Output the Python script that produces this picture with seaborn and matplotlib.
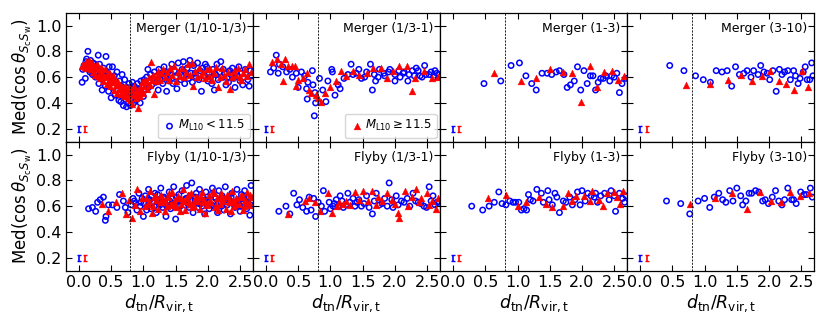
import matplotlib
matplotlib.use("Agg")
import matplotlib.pyplot as plt
import seaborn as sns

# ---- data (x = d_tn / R_vir,t, y = median cos) ----

# Merger (1/10-1/3)
mer1_lo_x = [0.05, 0.06, 0.08, 0.10, 0.11, 0.12, 0.14, 0.15, 0.16, 0.17, 0.18, 0.20, 0.21, 0.22, 0.24, 0.25,
             0.26, 0.27, 0.29, 0.30, 0.31, 0.32, 0.33, 0.35, 0.36, 0.37, 0.38, 0.40, 0.41, 0.42, 0.43, 0.45,
             0.46, 0.47, 0.49, 0.50, 0.51, 0.52, 0.54, 0.55, 0.56, 0.58, 0.59, 0.60, 0.62, 0.63, 0.64, 0.65,
             0.66, 0.67, 0.68, 0.69, 0.70, 0.71, 0.72, 0.73, 0.74, 0.75, 0.76, 0.77, 0.78, 0.79, 0.80, 0.81,
             0.82, 0.83, 0.84, 0.85, 0.86, 0.87, 0.88, 0.90, 0.91, 0.92, 0.94, 0.95, 0.96, 0.97, 0.99, 1.00,
             1.01, 1.03, 1.04, 1.05, 1.07, 1.08, 1.10, 1.11, 1.13, 1.15, 1.17, 1.19, 1.21, 1.23, 1.24, 1.26,
             1.28, 1.30, 1.32, 1.34, 1.36, 1.38, 1.40, 1.42, 1.44, 1.46, 1.48, 1.50, 1.52, 1.54, 1.56, 1.58,
             1.60, 1.62, 1.64, 1.66, 1.68, 1.70, 1.72, 1.74, 1.76, 1.78, 1.80, 1.82, 1.84, 1.86, 1.88, 1.90,
             1.92, 1.94, 1.96, 1.98, 2.00, 2.02, 2.04, 2.06, 2.08, 2.10, 2.12, 2.14, 2.16, 2.18, 2.20, 2.22,
             2.24, 2.26, 2.28, 2.30, 2.32, 2.34, 2.36, 2.38, 2.40, 2.42, 2.44, 2.46, 2.48, 2.50, 2.52, 2.54,
             2.56, 2.58, 2.60, 2.62, 2.64, 2.66, 2.68]
mer1_lo_y = [0.56, 0.66, 0.69, 0.59, 0.72, 0.74, 0.80, 0.70, 0.66, 0.64, 0.73, 0.68, 0.62, 0.71, 0.66, 0.70,
             0.60, 0.68, 0.64, 0.77, 0.55, 0.70, 0.62, 0.65, 0.50, 0.59, 0.67, 0.61, 0.53, 0.76, 0.57, 0.63,
             0.49, 0.68, 0.56, 0.44, 0.60, 0.68, 0.52, 0.61, 0.46, 0.55, 0.64, 0.50, 0.42, 0.57, 0.48, 0.41,
             0.53, 0.62, 0.45, 0.38, 0.50, 0.58, 0.43, 0.47, 0.37, 0.52, 0.44, 0.40, 0.55, 0.47, 0.38, 0.51,
             0.43, 0.56, 0.46, 0.40, 0.53, 0.48, 0.42, 0.50, 0.55, 0.44, 0.51, 0.40, 0.57, 0.48, 0.53, 0.45,
             0.58, 0.50, 0.55, 0.60, 0.66, 0.52, 0.57, 0.62, 0.54, 0.59, 0.64, 0.56, 0.61, 0.50, 0.66, 0.58,
             0.63, 0.55, 0.68, 0.60, 0.49, 0.64, 0.57, 0.62, 0.70, 0.55, 0.65, 0.60, 0.51, 0.71, 0.63, 0.58,
             0.66, 0.72, 0.55, 0.62, 0.67, 0.59, 0.73, 0.63, 0.56, 0.69, 0.63, 0.60, 0.71, 0.58, 0.65, 0.49,
             0.67, 0.61, 0.70, 0.68, 0.57, 0.63, 0.60, 0.55, 0.66, 0.50, 0.62, 0.70, 0.58, 0.64, 0.72, 0.60,
             0.66, 0.63, 0.54, 0.59, 0.56, 0.65, 0.62, 0.67, 0.59, 0.52, 0.64, 0.61, 0.68, 0.57, 0.63, 0.54,
             0.60, 0.66, 0.62, 0.58, 0.53, 0.65, 0.61]
mer1_hi_x = [0.05, 0.07, 0.09, 0.11, 0.13, 0.14, 0.16, 0.17, 0.19, 0.20, 0.22, 0.23, 0.25, 0.26, 0.28, 0.29,
             0.31, 0.32, 0.34, 0.35, 0.37, 0.38, 0.40, 0.41, 0.43, 0.44, 0.46, 0.47, 0.49, 0.50, 0.52, 0.53,
             0.55, 0.56, 0.58, 0.59, 0.61, 0.62, 0.64, 0.65, 0.67, 0.68, 0.70, 0.71, 0.73, 0.74, 0.76, 0.77,
             0.79, 0.80, 0.82, 0.83, 0.85, 0.86, 0.88, 0.89, 0.91, 0.92, 0.94, 0.95, 0.97, 0.98, 1.00, 1.01,
             1.03, 1.05, 1.06, 1.08, 1.10, 1.12, 1.13, 1.15, 1.17, 1.19, 1.21, 1.23, 1.25, 1.27, 1.30, 1.33,
             1.36, 1.39, 1.42, 1.45, 1.48, 1.51, 1.54, 1.57, 1.60, 1.63, 1.66, 1.69, 1.72, 1.75, 1.77, 1.80,
             1.83, 1.86, 1.89, 1.92, 1.95, 1.98, 2.01, 2.04, 2.07, 2.10, 2.13, 2.16, 2.19, 2.22, 2.25, 2.28,
             2.31, 2.34, 2.37, 2.40, 2.43, 2.46, 2.49, 2.52, 2.55, 2.58, 2.61, 2.64, 2.67]
mer1_hi_y = [0.69, 0.70, 0.68, 0.72, 0.67, 0.70, 0.73, 0.68, 0.66, 0.71, 0.64, 0.69, 0.62, 0.67, 0.70, 0.61,
             0.66, 0.59, 0.64, 0.68, 0.57, 0.62, 0.60, 0.66, 0.55, 0.62, 0.58, 0.64, 0.53, 0.60, 0.56, 0.62,
             0.50, 0.58, 0.54, 0.48, 0.56, 0.51, 0.54, 0.47, 0.52, 0.49, 0.45, 0.53, 0.47, 0.50, 0.44, 0.52,
             0.47, 0.42, 0.50, 0.39, 0.46, 0.53, 0.44, 0.49, 0.36, 0.47, 0.52, 0.45, 0.50, 0.56, 0.48, 0.53,
             0.58, 0.51, 0.56, 0.60, 0.54, 0.72, 0.58, 0.62, 0.47, 0.57, 0.61, 0.65, 0.58, 0.63, 0.66, 0.60,
             0.64, 0.58, 0.67, 0.62, 0.69, 0.57, 0.64, 0.61, 0.67, 0.60, 0.64, 0.70, 0.62, 0.71, 0.53, 0.65,
             0.60, 0.67, 0.62, 0.64, 0.59, 0.66, 0.61, 0.66, 0.58, 0.63, 0.68, 0.52, 0.60, 0.67, 0.62, 0.57,
             0.64, 0.51, 0.60, 0.65, 0.62, 0.67, 0.60, 0.58, 0.63, 0.66, 0.61, 0.70, 0.64]

# Merger (1/3-1)
mer2_lo_x = [0.07, 0.12, 0.16, 0.19, 0.21, 0.26, 0.32, 0.37, 0.41, 0.47, 0.50, 0.55, 0.60, 0.63, 0.64, 0.65,
             0.72, 0.73, 0.75, 0.76, 0.77, 0.83, 0.88, 0.93, 0.96, 1.02, 1.03, 1.07, 1.12, 1.15, 1.21, 1.27,
             1.32, 1.35, 1.40, 1.44, 1.48, 1.53, 1.56, 1.62, 1.65, 1.68, 1.70, 1.74, 1.76, 1.83, 1.84, 1.90,
             1.92, 2.00, 2.00, 2.06, 2.08, 2.13, 2.14, 2.20, 2.22, 2.27, 2.30, 2.33, 2.36, 2.39, 2.42, 2.46,
             2.48, 2.53, 2.56, 2.60, 2.62, 2.65, 2.69]
mer2_lo_y = [0.64, 0.67, 0.77, 0.63, 0.70, 0.68, 0.64, 0.66, 0.60, 0.63, 0.52, 0.64, 0.61, 0.51, 0.43, 0.56,
             0.65, 0.54, 0.30, 0.48, 0.40, 0.59, 0.50, 0.41, 0.57, 0.66, 0.64, 0.46, 0.54, 0.51, 0.59, 0.62,
             0.70, 0.62, 0.63, 0.66, 0.59, 0.60, 0.64, 0.70, 0.50, 0.62, 0.57, 0.60, 0.66, 0.63, 0.61, 0.64,
             0.66, 0.57, 0.62, 0.65, 0.60, 0.63, 0.64, 0.57, 0.62, 0.65, 0.61, 0.67, 0.65, 0.61, 0.60, 0.69,
             0.62, 0.62, 0.64, 0.60, 0.65, 0.63, 0.62]
mer2_hi_x = [0.10, 0.17, 0.24, 0.27, 0.29, 0.34, 0.41, 0.45, 0.46, 0.50, 0.57, 0.63, 0.67, 0.70, 0.78, 0.81,
             0.86, 0.91, 0.99, 1.09, 1.17, 1.24, 1.35, 1.45, 1.57, 1.66, 1.79, 1.87, 1.97, 2.06, 2.19, 2.26,
             2.31, 2.45, 2.57, 2.67]
mer2_hi_y = [0.72, 0.74, 0.70, 0.57, 0.74, 0.69, 0.69, 0.69, 0.53, 0.58, 0.59, 0.63, 0.50, 0.48, 0.46, 0.44,
             0.41, 0.48, 0.52, 0.57, 0.65, 0.61, 0.65, 0.62, 0.63, 0.67, 0.67, 0.59, 0.65, 0.69, 0.69, 0.49,
             0.59, 0.65, 0.59, 0.60]

# Merger (1-3)
mer3_lo_x = [0.48, 0.74, 0.90, 1.03, 1.13, 1.22, 1.29, 1.38, 1.46, 1.53, 1.60, 1.65, 1.72, 1.77, 1.82, 1.88,
             1.93, 1.98, 2.03, 2.08, 2.13, 2.17, 2.21, 2.25, 2.29, 2.33, 2.37, 2.43, 2.46, 2.50, 2.54, 2.58,
             2.62, 2.68]
mer3_lo_y = [0.55, 0.57, 0.69, 0.71, 0.61, 0.55, 0.50, 0.63, 0.63, 0.62, 0.64, 0.65, 0.62, 0.52, 0.54, 0.57,
             0.68, 0.50, 0.65, 0.55, 0.61, 0.61, 0.50, 0.56, 0.59, 0.59, 0.61, 0.57, 0.61, 0.60, 0.63, 0.48,
             0.55, 0.59]
mer3_hi_x = [0.64, 1.06, 1.29, 1.50, 1.70, 1.85, 1.99, 2.12, 2.24, 2.34, 2.46, 2.56, 2.65]
mer3_hi_y = [0.63, 0.57, 0.59, 0.66, 0.64, 0.63, 0.41, 0.69, 0.52, 0.64, 0.65, 0.58, 0.61]

# Merger (3-10)
mer4_lo_x = [0.46, 0.68, 0.86, 0.98, 1.09, 1.18, 1.27, 1.35, 1.42, 1.48, 1.54, 1.61, 1.66, 1.72, 1.76, 1.83,
             1.87, 1.92, 1.97, 2.01, 2.06, 2.11, 2.16, 2.20, 2.24, 2.29, 2.33, 2.38, 2.41, 2.45, 2.48, 2.53,
             2.56, 2.59, 2.63, 2.66, 2.68]
mer4_lo_y = [0.69, 0.65, 0.61, 0.58, 0.56, 0.65, 0.64, 0.65, 0.53, 0.68, 0.62, 0.63, 0.65, 0.60, 0.65, 0.62,
             0.69, 0.64, 0.63, 0.58, 0.65, 0.49, 0.66, 0.62, 0.64, 0.65, 0.58, 0.65, 0.61, 0.55, 0.59, 0.64,
             0.68, 0.58, 0.58, 0.71, 0.61]
mer4_hi_x = [0.71, 1.09, 1.37, 1.57, 1.74, 1.89, 2.02, 2.16, 2.27, 2.39, 2.51, 2.61]
mer4_hi_y = [0.54, 0.55, 0.58, 0.62, 0.57, 0.61, 0.65, 0.57, 0.55, 0.50, 0.65, 0.52]

# Flyby (1/10-1/3)
fly1_lo_x = [0.15, 0.21, 0.26, 0.29, 0.33, 0.38, 0.41, 0.42, 0.46, 0.52, 0.59, 0.63, 0.69, 0.72, 0.76, 0.81,
             0.86, 0.90, 0.93, 0.96, 1.00, 1.03, 1.06, 1.08, 1.10, 1.12, 1.15, 1.18, 1.20, 1.22, 1.25, 1.27,
             1.30, 1.32, 1.35, 1.37, 1.40, 1.42, 1.45, 1.47, 1.50, 1.52, 1.55, 1.57, 1.60, 1.62, 1.65, 1.67,
             1.70, 1.72, 1.75, 1.77, 1.80, 1.82, 1.85, 1.87, 1.90, 1.92, 1.95, 1.97, 2.00, 2.02, 2.05, 2.07,
             2.10, 2.12, 2.15, 2.17, 2.20, 2.22, 2.25, 2.27, 2.30, 2.32, 2.35, 2.37, 2.40, 2.42, 2.45, 2.47,
             2.50, 2.52, 2.55, 2.57, 2.60, 2.62, 2.65, 2.67, 1.01, 1.05, 1.09, 1.13, 1.17, 1.21, 1.26, 1.31,
             1.36, 1.41, 1.46, 1.51, 1.56, 1.61, 1.66, 1.71, 1.76, 1.81, 1.86, 1.91, 1.96, 2.01, 2.06, 2.11,
             2.16, 2.21, 2.26, 2.31, 2.36, 2.41, 2.46, 2.51, 2.56, 2.61, 2.66, 0.84, 0.88, 0.95, 0.98]
fly1_lo_y = [0.58, 0.59, 0.56, 0.63, 0.65, 0.67, 0.49, 0.52, 0.61, 0.61, 0.59, 0.69, 0.64, 0.59, 0.55, 0.61,
             0.64, 0.57, 0.70, 0.63, 0.52, 0.68, 0.60, 0.73, 0.65, 0.58, 0.63, 0.70, 0.55, 0.69, 0.62, 0.74,
             0.59, 0.67, 0.52, 0.64, 0.71, 0.58, 0.66, 0.75, 0.50, 0.63, 0.69, 0.60, 0.72, 0.57, 0.65, 0.76,
             0.61, 0.68, 0.78, 0.55, 0.64, 0.70, 0.59, 0.73, 0.62, 0.67, 0.54, 0.71, 0.64, 0.58, 0.69, 0.74,
             0.60, 0.66, 0.55, 0.72, 0.63, 0.68, 0.57, 0.75, 0.61, 0.66, 0.54, 0.70, 0.63, 0.59, 0.73, 0.65,
             0.56, 0.69, 0.62, 0.72, 0.58, 0.66, 0.53, 0.76, 0.62, 0.57, 0.64, 0.68, 0.60, 0.65, 0.61, 0.66,
             0.60, 0.64, 0.62, 0.67, 0.61, 0.63, 0.66, 0.59, 0.64, 0.67, 0.62, 0.60, 0.65, 0.63, 0.61, 0.67,
             0.62, 0.60, 0.65, 0.63, 0.67, 0.61, 0.64, 0.60, 0.66, 0.63, 0.61, 0.66, 0.62, 0.60, 0.66]
fly1_hi_x = [0.36, 0.45, 0.57, 0.67, 0.73, 0.77, 0.83, 0.90, 0.95, 1.04, 1.07, 1.11, 1.15, 1.20, 1.23, 1.28,
             1.31, 1.34, 1.38, 1.41, 1.44, 1.48, 1.51, 1.54, 1.58, 1.61, 1.64, 1.68, 1.71, 1.74, 1.78, 1.81,
             1.84, 1.88, 1.91, 1.94, 1.98, 2.01, 2.04, 2.08, 2.11, 2.14, 2.18, 2.21, 2.24, 2.28, 2.31, 2.34,
             2.38, 2.41, 2.44, 2.48, 2.51, 2.54, 2.58, 2.61, 2.64, 2.68, 1.02, 1.09, 1.17, 1.25, 1.33, 1.43,
             1.53, 1.63, 1.73, 1.83, 1.93, 2.03, 2.13, 2.23, 2.33, 2.43, 2.53, 2.63, 1.13, 1.36, 1.56, 1.76,
             1.96, 2.16, 2.36, 2.56, 0.87, 0.98, 1.19, 1.29, 1.39, 1.49, 1.59, 1.69, 1.79, 1.89, 1.99, 2.09,
             2.19, 2.29, 2.39, 2.49, 2.59, 2.66]
fly1_hi_y = [0.62, 0.56, 0.63, 0.70, 0.54, 0.65, 0.51, 0.73, 0.56, 0.66, 0.62, 0.72, 0.60, 0.65, 0.58, 0.69,
             0.63, 0.56, 0.67, 0.61, 0.71, 0.64, 0.59, 0.68, 0.62, 0.73, 0.57, 0.66, 0.63, 0.70, 0.60, 0.67,
             0.64, 0.58, 0.71, 0.65, 0.61, 0.69, 0.63, 0.72, 0.59, 0.66, 0.62, 0.70, 0.64, 0.58, 0.68, 0.63,
             0.72, 0.60, 0.66, 0.62, 0.69, 0.57, 0.65, 0.71, 0.61, 0.67, 0.60, 0.64, 0.67, 0.63, 0.65, 0.62,
             0.66, 0.64, 0.62, 0.67, 0.63, 0.65, 0.61, 0.66, 0.64, 0.62, 0.68, 0.63, 0.55, 0.60, 0.56, 0.59,
             0.55, 0.57, 0.56, 0.60, 0.61, 0.66, 0.68, 0.65, 0.70, 0.61, 0.66, 0.69, 0.64, 0.67, 0.62, 0.70,
             0.66, 0.69, 0.65, 0.67, 0.63, 0.69]

# Flyby (1/3-1)
fly2_lo_x = [0.20, 0.31, 0.37, 0.43, 0.48, 0.52, 0.57, 0.63, 0.67, 0.70, 0.74, 0.77, 0.81, 0.86, 0.89, 0.91,
             0.98, 1.04, 1.09, 1.15, 1.20, 1.27, 1.35, 1.41, 1.48, 1.56, 1.65, 1.71, 1.76, 1.84, 1.91, 1.97,
             2.02, 2.10, 2.19, 2.28, 2.36, 2.45, 2.53, 2.59, 2.65, 1.00, 1.06, 1.12, 1.18, 1.24, 1.30, 1.38,
             1.44, 1.52, 1.60, 1.68, 1.80, 1.88, 1.95, 2.05, 2.14, 2.23, 2.32, 2.40, 2.49, 2.56, 2.62, 2.68]
fly2_lo_y = [0.56, 0.60, 0.54, 0.70, 0.61, 0.65, 0.59, 0.56, 0.67, 0.57, 0.66, 0.52, 0.63, 0.60, 0.72, 0.56,
             0.63, 0.60, 0.65, 0.68, 0.59, 0.70, 0.66, 0.63, 0.60, 0.68, 0.54, 0.70, 0.61, 0.66, 0.78, 0.59,
             0.68, 0.64, 0.66, 0.70, 0.63, 0.60, 0.75, 0.68, 0.63, 0.58, 0.62, 0.60, 0.64, 0.61, 0.63, 0.60,
             0.65, 0.62, 0.59, 0.64, 0.62, 0.60, 0.65, 0.61, 0.63, 0.60, 0.64, 0.62, 0.59, 0.64, 0.61, 0.63]
fly2_hi_x = [0.34, 0.60, 0.67, 0.76, 0.84, 0.96, 1.03, 1.14, 1.24, 1.30, 1.38, 1.51, 1.58, 1.64, 1.74, 1.87,
             1.95, 2.05, 2.07, 2.15, 2.26, 2.33, 2.41, 2.49, 2.57, 2.63, 2.67, 1.10, 1.20, 1.44, 1.70, 1.80,
             2.00, 2.20, 2.37, 2.53]
fly2_hi_y = [0.54, 0.64, 0.66, 0.63, 0.56, 0.70, 0.55, 0.63, 0.64, 0.61, 0.71, 0.72, 0.64, 0.72, 0.67, 0.70,
             0.65, 0.55, 0.51, 0.72, 0.67, 0.73, 0.66, 0.70, 0.64, 0.58, 0.66, 0.60, 0.62, 0.65, 0.61, 0.64,
             0.62, 0.60, 0.63, 0.61]

# Flyby (1-3)
fly3_lo_x = [0.29, 0.46, 0.56, 0.64, 0.71, 0.76, 0.82, 0.88, 0.93, 0.97, 1.02, 1.06, 1.10, 1.14, 1.17, 1.20,
             1.24, 1.30, 1.37, 1.40, 1.47, 1.49, 1.54, 1.58, 1.61, 1.65, 1.71, 1.75, 1.81, 1.85, 1.89, 1.93,
             1.97, 2.00, 2.05, 2.09, 2.14, 2.19, 2.21, 2.24, 2.29, 2.35, 2.42, 2.45, 2.50, 2.52, 2.58, 2.63,
             2.66, 2.68]
fly3_lo_y = [0.60, 0.57, 0.60, 0.63, 0.71, 0.62, 0.61, 0.64, 0.63, 0.63, 0.63, 0.57, 0.58, 0.57, 0.69, 0.65,
             0.64, 0.73, 0.70, 0.63, 0.72, 0.65, 0.61, 0.70, 0.67, 0.55, 0.64, 0.63, 0.67, 0.61, 0.65, 0.71,
             0.61, 0.72, 0.64, 0.70, 0.68, 0.67, 0.70, 0.63, 0.68, 0.70, 0.65, 0.72, 0.68, 0.56, 0.70, 0.66,
             0.63, 0.68]
fly3_hi_x = [0.54, 0.82, 1.00, 1.13, 1.34, 1.44, 1.53, 1.70, 1.78, 1.84, 1.91, 2.03, 2.12, 2.16, 2.27, 2.33,
             2.38, 2.49, 2.55, 2.59, 2.64]
fly3_hi_y = [0.66, 0.69, 0.60, 0.63, 0.67, 0.62, 0.59, 0.60, 0.70, 0.64, 0.68, 0.68, 0.64, 0.72, 0.65, 0.60,
             0.70, 0.71, 0.67, 0.62, 0.72]

# Flyby (3-10)
fly4_lo_x = [0.41, 0.63, 0.77, 0.90, 1.00, 1.08, 1.15, 1.22, 1.28, 1.33, 1.39, 1.44, 1.50, 1.56, 1.59, 1.64,
             1.69, 1.73, 1.79, 1.84, 1.90, 1.94, 1.99, 2.05, 2.10, 2.15, 2.20, 2.24, 2.29, 2.35, 2.38, 2.42,
             2.49, 2.54, 2.58, 2.64, 2.67]
fly4_lo_y = [0.64, 0.62, 0.54, 0.64, 0.66, 0.59, 0.67, 0.70, 0.65, 0.63, 0.72, 0.64, 0.74, 0.68, 0.61, 0.64,
             0.70, 0.70, 0.72, 0.71, 0.64, 0.65, 0.62, 0.67, 0.72, 0.64, 0.61, 0.65, 0.74, 0.65, 0.65, 0.62,
             0.71, 0.69, 0.69, 0.74, 0.67]
fly4_hi_x = [0.77, 1.16, 1.43, 1.65, 1.86, 2.03, 2.19, 2.33, 2.48, 2.62]
fly4_hi_y = [0.62, 0.66, 0.70, 0.58, 0.71, 0.64, 0.63, 0.71, 0.68, 0.70]

# typical error bars drawn in the lower-left corner of every panel
err_x = [0.0, 0.1]
err_y = [0.2, 0.2]
err_size = [0.025, 0.025]

titles = ["Merger (1/10-1/3)", "Merger (1/3-1)", "Merger (1-3)", "Merger (3-10)",
          "Flyby (1/10-1/3)", "Flyby (1/3-1)", "Flyby (1-3)", "Flyby (3-10)"]
panels = [
    (mer1_lo_x, mer1_lo_y, mer1_hi_x, mer1_hi_y),
    (mer2_lo_x, mer2_lo_y, mer2_hi_x, mer2_hi_y),
    (mer3_lo_x, mer3_lo_y, mer3_hi_x, mer3_hi_y),
    (mer4_lo_x, mer4_lo_y, mer4_hi_x, mer4_hi_y),
    (fly1_lo_x, fly1_lo_y, fly1_hi_x, fly1_hi_y),
    (fly2_lo_x, fly2_lo_y, fly2_hi_x, fly2_hi_y),
    (fly3_lo_x, fly3_lo_y, fly3_hi_x, fly3_hi_y),
    (fly4_lo_x, fly4_lo_y, fly4_hi_x, fly4_hi_y),
]
xticks = [0.0, 0.5, 1.0, 1.5, 2.0, 2.5]
yticks = [0.2, 0.4, 0.6, 0.8, 1.0]

sns.set_style("ticks", {"text.color": "black", "axes.labelcolor": "black", "axes.edgecolor": "black",
                        "xtick.color": "black", "ytick.color": "black"})
plt.rcParams["mathtext.fontset"] = "dejavusans"

fig, axes = plt.subplots(2, 4, figsize=(8.3, 3.23), dpi=100, sharex=True, sharey=True)
fig.subplots_adjust(left=0.0795, right=0.981, top=0.961, bottom=0.162, wspace=0, hspace=0)

for i, ax in enumerate(axes.flat):
    lo_x, lo_y, hi_x, hi_y = panels[i]
    sns.scatterplot(x=lo_x, y=lo_y, ax=ax, marker="o", s=15, facecolor="none",
                    edgecolor="blue", linewidth=1.1, label=r"$M_{\rm L10} < 11.5$")
    sns.scatterplot(x=hi_x, y=hi_y, ax=ax, marker="^", s=24, color="red",
                    edgecolor="red", linewidth=0.3, label=r"$M_{\rm L10} \geq 11.5$")
    ax.errorbar(err_x[0], err_y[0], yerr=err_size[0], color="blue", capsize=1.5, lw=1.2, capthick=1.0)
    ax.errorbar(err_x[1], err_y[1], yerr=err_size[1], color="red", capsize=1.5, lw=1.2, capthick=1.0)
    ax.axvline(0.8, color="k", ls=(0, (2.5, 1.5)), lw=0.6)
    ax.text(0.965, 0.93, titles[i], transform=ax.transAxes, ha="right", va="top", fontsize=9,
            color="black")

    handles, labels = ax.get_legend_handles_labels()
    if i == 0:
        ax.legend(handles[:1], labels[:1], loc="lower right", fontsize=8.5, handletextpad=0.1,
                  borderaxespad=0.3, handlelength=1.2, borderpad=0.4)
    elif i == 1:
        ax.legend(handles[1:2], labels[1:2], loc="lower right", fontsize=8.5, handletextpad=0.1,
                  borderaxespad=0.3, handlelength=1.2, borderpad=0.4)
    else:
        ax.get_legend().remove()

    ax.set_xlim(-0.2, 2.7)
    ax.set_ylim(0.1, 1.1)
    ax.set_xticks(xticks)
    ax.set_yticks(yticks)
    ax.tick_params(direction="in", top=True, right=True, length=4, width=0.8, labelsize=11.5, pad=3,
                   colors="black")
    for sp in ax.spines.values():
        sp.set_linewidth(0.9)
        sp.set_color("black")

for ax in axes[:, 0]:
    ax.set_ylabel(r"Med$(\cos\theta_{S_{\rm c}S_{\rm w}})$", fontsize=12, labelpad=2, color="black")
for ax in axes[1, :]:
    ax.set_xlabel(r"$d_{\rm tn}/R_{\rm vir,t}$", fontsize=12.5, labelpad=2, color="black")

plt.savefig("out.png", dpi=100)
